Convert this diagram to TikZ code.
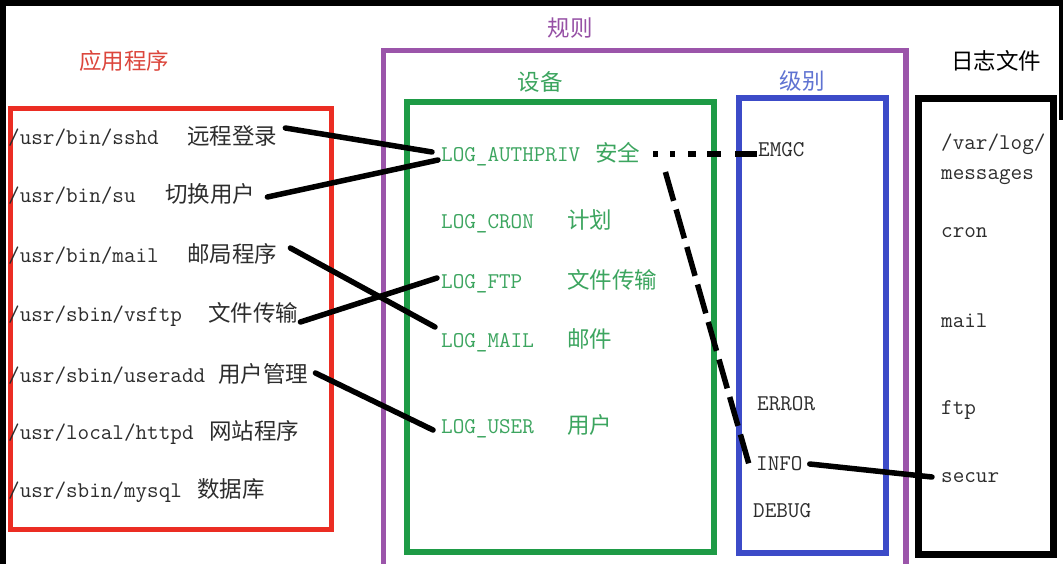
\documentclass[tikz,border=0pt]{standalone}
\usepackage{fontspec}
\newfontfamily\cjk{Noto Sans CJK SC}
\usetikzlibrary{calc}
\definecolor{redc}{RGB}{235,45,35}
\definecolor{redt}{RGB}{220,70,60}
\definecolor{purp}{RGB}{155,85,170}
\definecolor{purpt}{RGB}{150,80,165}
\definecolor{grn}{RGB}{30,155,70}
\definecolor{grnt}{RGB}{60,165,95}
\definecolor{blu}{RGB}{60,75,200}
\definecolor{blut}{RGB}{95,115,210}
\definecolor{txt}{RGB}{45,45,45}
\tikzset{
  mono/.style={font=\fontsize{22.5}{27}\selectfont\ttfamily, inner sep=0pt, anchor=base west, text=txt},
  cjkt/.style={font=\fontsize{22.5}{27}\selectfont\cjk, inner sep=0pt, anchor=base west, text=txt},
  title/.style={font=\fontsize{22.5}{27}\selectfont\cjk, inner sep=0pt, anchor=center},
  conn/.style={line width=5.5pt, line cap=round, black},
}
\begin{document}
\begin{tikzpicture}[x=1pt,y=-1pt]
\useasboundingbox (0,0) rectangle (1063,564);
\fill[white] (0,0) rectangle (1063,564);
% frame edges
\fill[black] (0,0) rectangle (1063,6);
\fill[black] (0,0) rectangle (6,564);
\fill[black] (1059,0) rectangle (1063,120);
% boxes
\draw[line width=5pt, redc] (10.5,108.5) rectangle (331,529.5);
\draw[line width=5.5pt, purp] (383.5,570) -- (383.5,50.5) -- (906,50.5) -- (906,570);
\draw[line width=6pt, grn] (407,102.5) rectangle (714,551.5);
\draw[line width=6pt, blu] (738.5,98) rectangle (886,552.5);
\draw[line width=7pt, black] (918,98.5) rectangle (1053.5,554);
% titles
\node[title, text=redt] (tapp) at (124,61) {应用程序};
\node[title, text=purpt] (trule) at (570,28) {规则};
\node[title, text=grnt] (tdev) at (540,82) {设备};
\node[title, text=blut] (tlev) at (802,81) {级别};
\node[title, text=black] (tlog) at (996,61) {日志文件};
% applications
\node[mono] (p1) at (8,145) {/usr/bin/sshd};
\node[cjkt] (d1) at (187,145) {远程登录};
\node[mono] (p2) at (8,203) {/usr/bin/su};
\node[cjkt] (d2) at (165,203) {切换用户};
\node[mono] (p3) at (8,262) {/usr/bin/mail};
\node[cjkt] (d3) at (187,262) {邮局程序};
\node[mono] (p4) at (8,321) {/usr/sbin/vsftp};
\node[cjkt] (d4) at (208,321) {文件传输};
\node[mono] (p5) at (8,382) {/usr/sbin/useradd};
\node[cjkt] (d5) at (218,382) {用户管理};
\node[mono] (p6) at (8,439) {/usr/local/httpd};
\node[cjkt] (d6) at (209,439) {网站程序};
\node[mono] (p7) at (8,497) {/usr/sbin/mysql};
\node[cjkt] (d7) at (197,497) {数据库};
% facilities
\node[mono, text=grnt] (f1) at (441,162) {LOG\_AUTHPRIV};
\node[cjkt, text=grnt] (s1) at (595,162) {安全};
\node[mono, text=grnt] (f2) at (441,229) {LOG\_CRON};
\node[cjkt, text=grnt] (s2) at (567,229) {计划};
\node[mono, text=grnt] (f3) at (441,288) {LOG\_FTP};
\node[cjkt, text=grnt] (s3) at (567,288) {文件传输};
\node[mono, text=grnt] (f4) at (441,347) {LOG\_MAIL};
\node[cjkt, text=grnt] (s4) at (567,347) {邮件};
\node[mono, text=grnt] (f5) at (441,433) {LOG\_USER};
\node[cjkt, text=grnt] (s5) at (567,433) {用户};
% levels
\node[mono] (emgc) at (758,157) {EMGC};
\node[mono] (error) at (757,410) {ERROR};
\node[mono] (info) at (756,470) {INFO};
\node[mono] (debug) at (753,517) {DEBUG};
% log files
\node[mono] (v1) at (941,150) {/var/log/};
\node[mono] (v2) at (941,180) {messages};
\node[mono] (v3) at (941,238) {cron};
\node[mono] (v4) at (941,327) {mail};
\node[mono] (v5) at (941,414) {ftp};
\node[mono] (v6) at (941,482) {secur};
% connectors
\draw[conn] ($(d1.base east)+(8,-17)$) -- ($(f1.base west)+(-9,-10)$);
\draw[conn] ($(d2.base east)+(12,-6)$) -- ($(f1.base west)+(-3,-2)$);
\draw[conn] ($(d3.base east)+(13,-14)$) -- ($(f4.base west)+(-6,-20)$);
\draw[conn] ($(d4.base east)+(2,1)$) -- ($(f3.base west)+(-4,-10)$);
\draw[conn] ($(d5.base east)+(7,-9)$) -- ($(f5.base west)+(-8,-3)$);
\draw[line width=5.5pt, line cap=butt, dash pattern=on 5pt off 12pt on 5pt off 13pt on 8pt off 11pt on 14pt off 14pt on 22pt]
  ($(s1.base east)+(13,-8)$) -- ($(emgc.base west)+(-1,-3)$);
\draw[line width=5.5pt, line cap=butt, dash pattern=on 30pt off 9pt]
  ($(s1.base east)+(25,10)$) -- ($(info.base west)+(-6,-2)$);
\draw[conn] ($(info.base east)+(7,-6)$) -- ($(v6.base west)+(-9,-5)$);
\end{tikzpicture}
\end{document}
